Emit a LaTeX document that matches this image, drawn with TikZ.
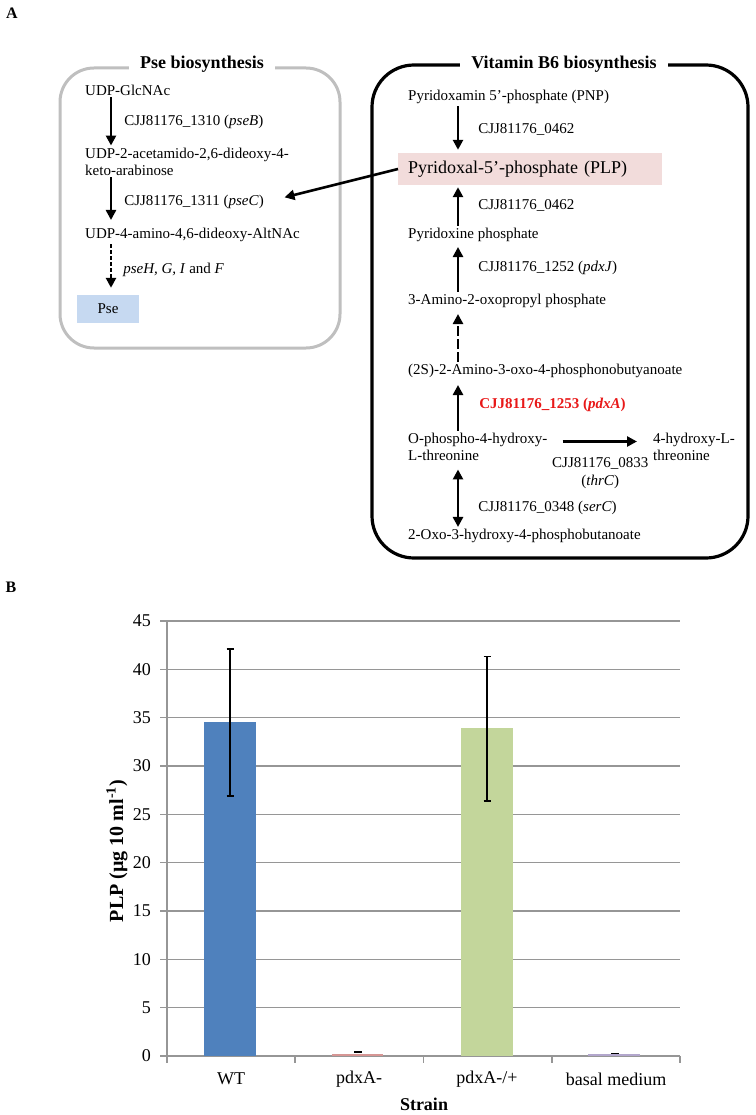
\documentclass[tikz,border=0pt]{standalone}
\usepackage{fontspec}
\setmainfont{Liberation Serif}
\usepackage{tikz}
\usetikzlibrary{arrows.meta}
\usepackage{xcolor}

\definecolor{plpfill}{RGB}{242,220,219}
\definecolor{psefill}{RGB}{198,217,241}
\definecolor{pdxred}{RGB}{232,24,24}
\definecolor{boxgray}{RGB}{191,191,191}
\definecolor{gridgray}{RGB}{150,150,150}
\definecolor{barblue}{RGB}{79,129,189}
\definecolor{barred}{RGB}{214,150,148}
\definecolor{bargreen}{RGB}{195,214,155}
\definecolor{barpurple}{RGB}{178,166,204}

\tikzset{
  met/.style={anchor=west,inner sep=2pt,align=left,font=\fontsize{15}{17}\selectfont},
  enz/.style={anchor=west,inner sep=2pt,font=\fontsize{15}{17}\selectfont},
  rxn/.style={-{Triangle[length=10pt,width=10pt]},line width=2.6pt},
  boxtitle/.style={fill=white,inner xsep=11pt,font=\fontsize{18}{20}\selectfont\bfseries},
  grid/.style={gridgray,line width=1.6pt},
  errbar/.style={line width=1.4pt},
}

\begin{document}
\begin{tikzpicture}[x=1pt,y=-1pt]
        \useasboundingbox (0,0) rectangle (755,1115);
        \def\yzero{1056}
        \def\yunit{9.667}
        \def\xl{167}
        \def\xr{680}

        %------------------
        % パネル A
        %------------------
        \node[font=\fontsize{16}{18}\selectfont\bfseries] (lblA) at (12,13) {A};

        % 枠
        \draw[boxgray,line width=3pt,rounded corners=34pt] (60,68) rectangle (340,348);
        \node[boxtitle] (psetitle) at (202,64) {Pse biosynthesis};
        \draw[line width=3.2pt,rounded corners=42pt] (372,65) rectangle (748,558);
        \node[boxtitle] (b6title) at (564,64) {Vitamin B6 biosynthesis};

        % Pse 経路
        \coordinate (vp) at (111,0);
        \node[met] (glc) at (83,90) {UDP-GlcNAc};
        \node[met] (keto) at (83,161.5) {UDP-2-acetamido-2,6-dideoxy-4-\\keto-arabinose};
        \node[met] (alt) at (83,235) {UDP-4-amino-4,6-dideoxy-AltNAc};
        \node[fill=psefill,minimum width=62pt,minimum height=28pt,
          font=\fontsize{15}{17}\selectfont] (pse) at (108,309) {Pse};

        \draw[rxn] (glc.south -| vp) -- (keto.north -| vp)
          node[enz,midway,right=10pt] (pseB) {CJJ81176\_1310 (\textit{pseB})};
        \draw[rxn,shorten >=6pt] (keto.south -| vp) -- (alt.north -| vp)
          node[enz,midway,right=10pt] (pseC) {CJJ81176\_1311 (\textit{pseC})};
        \draw[rxn,dash pattern=on 4pt off 2pt,shorten >=7pt] (alt.south -| vp) -- (pse.north -| vp)
          node[enz,midway,right=9pt] (pseHGIF) {\textit{pseH, G, I} and \textit{F}};

        % ビタミン B6 経路
        \coordinate (vb) at (458,0);
        \node[met] (pnp) at (406,97) {Pyridoxamin 5’-phosphate (PNP)};
        \node[fill=plpfill,anchor=west,text width=244pt,inner xsep=10pt,
          minimum height=32pt,align=left,font=\fontsize{18}{20}\selectfont]
          (plp) at (398,169) {Pyridoxal-5’-phosphate (PLP)};
        \node[met] (pyrp) at (406,235) {Pyridoxine phosphate};
        \node[met] (amop) at (406,301) {3-Amino-2-oxopropyl phosphate};
        \node[met] (aob) at (406,371) {(2S)-2-Amino-3-oxo-4-phosphonobutyanoate};
        \node[met] (ophos) at (406,446.5) {O-phospho-4-hydroxy-\\L-threonine};
        \node[met] (hthr) at (651,446.5) {4-hydroxy-L-\\threonine};
        \node[met] (oxo) at (406,536) {2-Oxo-3-hydroxy-4-phosphobutanoate};

        \draw[rxn,shorten >=3pt] (pnp.south -| vb) -- (plp.north -| vb)
          node[enz,midway,right=17pt] (e0462a) {CJJ81176\_0462};
        \draw[rxn,shorten >=2pt] (pyrp.north -| vb) -- (plp.south -| vb)
          node[enz,midway,right=17pt] (e0462b) {CJJ81176\_0462};
        \draw[rxn,shorten >=3pt] (amop.north -| vb) -- (pyrp.south -| vb)
          node[enz,midway,right=17pt] (pdxJ) {CJJ81176\_1252 (\textit{pdxJ})};
        \draw[rxn,dash pattern=on 10pt off 3pt,shorten >=4pt] (aob.north -| vb) -- (amop.south -| vb);
        \draw[rxn,shorten >=5pt] (ophos.north -| vb) -- (aob.south -| vb)
          node[enz,midway,right=18pt,text=pdxred,font=\fontsize{15}{17}\selectfont\bfseries]
          (pdxA) {CJJ81176\_1253 (\textit{pdxA})};
        \draw[{Triangle[length=10pt,width=10pt]}-{Triangle[length=10pt,width=10pt]},line width=2.6pt,
          shorten <=7pt] (ophos.south -| vb) -- (oxo.north -| vb)
          node[enz,pos=0.7,right=17pt] (serC) {CJJ81176\_0348 (\textit{serC})};
        \draw[rxn,shorten <=13pt,shorten >=14pt] ([yshift=5pt]ophos.east) -- ([yshift=5pt]hthr.west)
          node[midway,below=13pt,align=center,inner sep=2pt,font=\fontsize{15}{18}\selectfont]
          (thrC) {CJJ81176\_0833\\(\textit{thrC})};

        % PLP → pseC
        \draw[rxn,shorten >=18pt] (plp.west) -- (pseC.east);

        %------------------
        % パネル B
        %------------------
        \node[font=\fontsize{16}{18}\selectfont\bfseries] (lblB) at (11,587) {B};

        % 目盛線
        \foreach \v in {5,10,...,45}
          \draw[grid] (\xl,{\yzero-\v*\yunit}) -- (\xr,{\yzero-\v*\yunit});
        \foreach \v in {0,5,...,45}{
          \draw[grid] (160,{\yzero-\v*\yunit}) -- (\xl,{\yzero-\v*\yunit});
          \node[anchor=east,inner sep=0pt,font=\fontsize{18}{20}\selectfont]
            (tick\v) at (151,{\yzero-\v*\yunit}) {\v};
        }

        % 軸
        \draw[grid] (\xl,{\yzero-45*\yunit}) -- (\xl,\yzero) -- (\xr,\yzero);
        \foreach \x in {167,295.25,423.5,551.75,680}
          \draw[grid] (\x,\yzero) -- (\x,\yzero+7);

        % 棒
        \fill[barblue] (204,{\yzero-34.5*\yunit}) rectangle (256,\yzero);
        \fill[barred] (332,{\yzero-0.25*\yunit}) rectangle (383,\yzero);
        \fill[bargreen] (461,{\yzero-33.9*\yunit}) rectangle (513,\yzero);
        \fill[barpurple] (588,{\yzero-0.2*\yunit}) rectangle (640,\yzero);

        % 誤差棒
        \draw[errbar] (230,{\yzero-42.1*\yunit}) -- (230,{\yzero-26.9*\yunit});
        \draw[errbar] (226.5,{\yzero-42.1*\yunit}) -- (233.5,{\yzero-42.1*\yunit});
        \draw[errbar] (226.5,{\yzero-26.9*\yunit}) -- (233.5,{\yzero-26.9*\yunit});
        \draw[errbar] (487,{\yzero-41.3*\yunit}) -- (487,{\yzero-26.4*\yunit});
        \draw[errbar] (483.5,{\yzero-41.3*\yunit}) -- (490.5,{\yzero-41.3*\yunit});
        \draw[errbar] (483.5,{\yzero-26.4*\yunit}) -- (490.5,{\yzero-26.4*\yunit});
        \draw[errbar,line width=2pt] (354,{\yzero-0.4*\yunit}) -- (362,{\yzero-0.4*\yunit});
        \draw[errbar,line width=1.6pt] (611,{\yzero-0.25*\yunit}) -- (619,{\yzero-0.25*\yunit});

        % ラベル
        \node[font=\fontsize{18}{20}\selectfont] (cWT) at (231,1079) {WT};
        \node[font=\fontsize{18}{20}\selectfont] (cKO) at (359,1079) {pdxA-};
        \node[font=\fontsize{18}{20}\selectfont] (cComp) at (487,1079) {pdxA-/+};
        \node[font=\fontsize{18}{20}\selectfont] (cBasal) at (616,1079) {basal medium};
        \node[font=\fontsize{18}{20}\selectfont\bfseries] (xlab) at (424,1104) {Strain};
        \node[rotate=90,font=\fontsize{20}{22}\selectfont\bfseries] (ylab) at (117,851)
          {PLP (µg 10 ml\textsuperscript{-1})};
      \end{tikzpicture}
\end{document}
